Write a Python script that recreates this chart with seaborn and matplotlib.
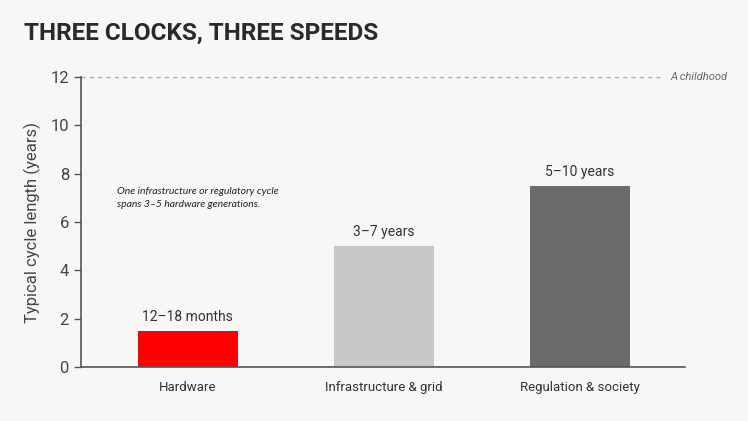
import pandas as pd
import matplotlib.pyplot as plt
import seaborn as sns

# data
categories = ['Hardware', 'Infrastructure & grid', 'Regulation & society']
cycle_years = [1.5, 5.0, 7.5]
range_labels = ['12–18 months', '3–7 years', '5–10 years']
bar_colors = ['#ff0000', '#c8c8c8', '#6b6b6b']
childhood_years = 12

df = pd.DataFrame({'category': categories, 'years': cycle_years})

sns.set_theme(style='ticks')
plt.rcParams['font.family'] = ['Roboto', 'DejaVu Sans']
bg = '#f7f7f5'

fig = plt.figure(figsize=(7.48, 4.21), dpi=100, facecolor=bg)
ax = fig.add_axes([0.108, 0.128, 0.808, 0.689])
ax.set_facecolor(bg)

sns.barplot(data=df, x='category', y='years', hue='category',
            palette=bar_colors, width=0.51, legend=False, ax=ax,
            saturation=1, linewidth=0)

# range labels above bars
for i, (v, lab) in enumerate(zip(cycle_years, range_labels)):
    ax.annotate(lab, (i, v), xytext=(0, 5), textcoords='offset points',
                ha='center', va='bottom', fontsize=10, color='#333333')

# childhood reference line
ax.plot([-0.546, 2.41], [childhood_years, childhood_years], color='#b0b0b0',
        lw=1, ls=(0, (3, 3)), zorder=0, clip_on=False)
ax.text(2.46, childhood_years, 'A childhood',
        ha='left', va='center', fontsize=8, style='italic', color='#666666')

# note
ax.text(-0.36, 7.45, 'One infrastructure or regulatory cycle\nspans 3–5 hardware generations.',
        ha='left', va='top', fontsize=7.5, style='italic', color='#222222',
        family=['Lato', 'DejaVu Sans'], linespacing=1.5)

ax.set_xlim(-0.546, 2.536)
ax.set_ylim(0, 12)
ax.set_yticks(range(0, 13, 2))
ax.set_xlabel('')
ax.set_ylabel('Typical cycle length (years)', fontsize=12, color='#444444',
              labelpad=7)
ax.tick_params(axis='y', labelsize=12, length=5, width=1,
               colors='#555555', labelcolor='#444444')
ax.tick_params(axis='x', labelsize=9.5, colors='#333333', length=0, pad=10)
sns.despine(ax=ax)
for s in ['left', 'bottom']:
    ax.spines[s].set_color('#555555')
    ax.spines[s].set_linewidth(1.2)

fig.text(0.032, 0.893, 'THREE CLOCKS, THREE SPEEDS', fontsize=17.5,
         fontweight='bold', color='#2a2a2a', ha='left', va='bottom')

fig.savefig('out.png', dpi=100, facecolor=bg)
